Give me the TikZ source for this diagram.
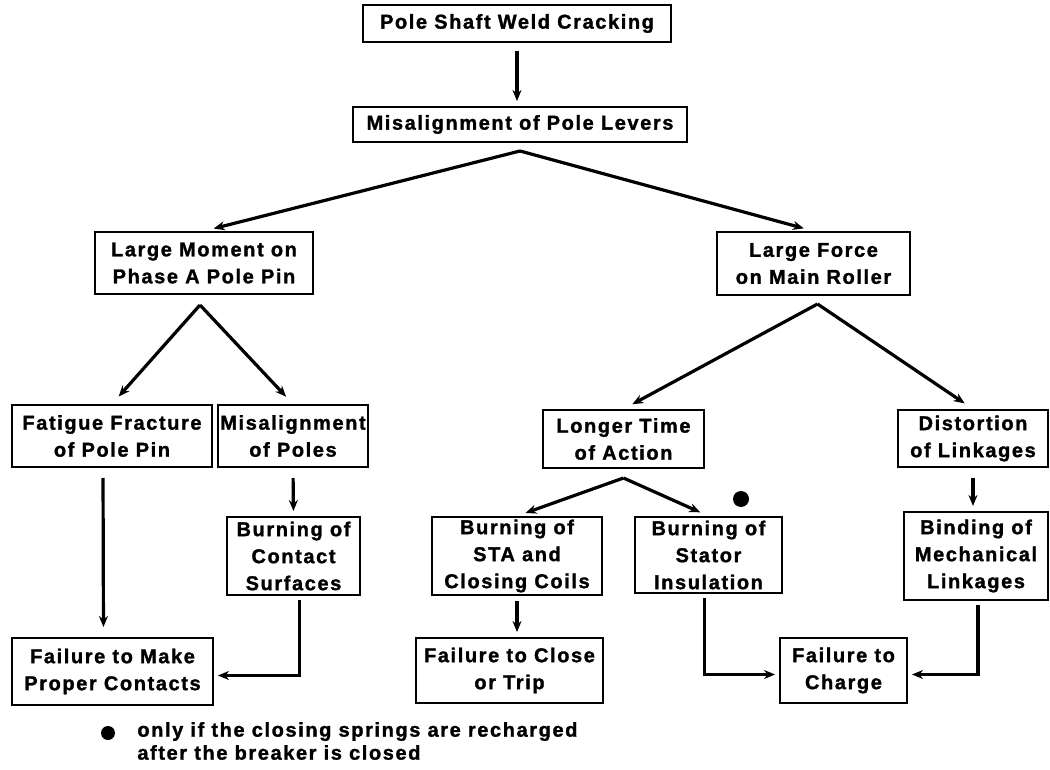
\documentclass[tikz,border=0pt]{standalone}
\usepackage{fontspec}
\setmainfont{Liberation Sans}[LetterSpace=8, BoldFeatures={FakeBold=1.4}]
\usetikzlibrary{arrows.meta}

\begin{document}
\begin{tikzpicture}[x=0.5pt, y=-0.5pt, >={Stealth[length=5.5pt,width=4.5pt]},
    cause/.style={draw, line width=1pt, align=center, inner sep=1pt,
                  font=\fontsize{10}{13.5}\selectfont\bfseries},
    boxsize/.style 2 args={minimum width=#1*0.5pt, minimum height=#2*0.5pt},
    arr/.style={->, line width=1.6pt}]

  \useasboundingbox (0,0) rectangle (1050,770);

  % --- Nivel superior ---
  \node[cause, boxsize={308}{37}] (crack)  at (517,23.5) {Pole Shaft Weld Cracking};
  \node[cause, boxsize={334}{35}] (levers) at (520,124.5) {Misalignment of Pole Levers};

  % --- Segundo nivel ---
  \node[cause, boxsize={218}{62}] (moment) at (204,263) {Large Moment on\\Phase A Pole Pin};
  \node[cause, boxsize={193}{63}] (force)  at (813.5,263.5) {Large Force\\on Main Roller};

  % --- Rama izquierda ---
  \node[cause, boxsize={200}{62}] (fatigue) at (112,436) {Fatigue Fracture\\of Pole Pin};
  \node[cause, boxsize={142}{62}] (poles)   at (293,436) {Misalignment\\of Poles};
  \node[cause, boxsize={133}{78}] (contact) at (293.5,556) {Burning of\\Contact\\Surfaces};
  \node[cause, boxsize={201}{67}] (make)    at (112.5,671.5) {Failure to Make\\Proper Contacts};

  % --- Rama derecha ---
  \node[cause, boxsize={161}{58}] (longer)  at (623.5,439) {Longer Time\\of Action};
  \node[cause, boxsize={150}{57}] (distort) at (973,438.5) {Distortion\\of Linkages};
  \node[cause, boxsize={170}{78}] (sta)     at (517,556) {Burning of\\STA and\\Closing Coils};
  \node[cause, boxsize={147}{76}] (stator)  at (708.5,555) {Burning of\\Stator\\Insulation};
  \node[cause, boxsize={144}{88}] (binding) at (976,556) {Binding of\\Mechanical\\Linkages};
  \node[cause, boxsize={187}{65}] (trip)    at (509.5,670.5) {Failure to Close\\or Trip};
  \node[cause, boxsize={127}{65}] (charge)  at (843.5,670.5) {Failure to\\Charge};

  % --- Marca y leyenda ---
  \node[circle, fill, inner sep=0pt, minimum size=8pt] (mark) at (741,499) {};
  \node[circle, fill, inner sep=0pt, minimum size=7pt] (keymark) at (108,733) {};
  \node[anchor=west, align=left, inner sep=0pt,
        font=\fontsize{10}{11.5}\selectfont\bfseries] (key) at (137,741)
        {only if the closing springs are recharged\\after the breaker is closed};

  % --- Flechas ---
  \draw[arr, shorten <=4pt, shorten >=2.5pt] (crack.south) -- (crack.south |- levers.north);
  \draw[arr, shorten >=5pt] ([yshift=-4pt]levers.south) -- (moment.north);
  \draw[arr, shorten >=5pt] ([yshift=-4pt]levers.south) -- (force.north);
  \draw[arr, shorten >=5pt] ([xshift=-2pt,yshift=-5pt]moment.south) -- (fatigue.north);
  \draw[arr, shorten >=5pt] ([xshift=-2pt,yshift=-5pt]moment.south) -- (poles.north);
  \draw[arr, shorten >=5pt] ([xshift=2pt,yshift=-4pt]force.south) -- (longer.north);
  \draw[arr, shorten >=5pt] ([xshift=2pt,yshift=-4pt]force.south) -- (distort.north);
  \draw[arr, shorten >=4.5pt] ([yshift=-4.5pt]longer.south) -- (sta.north);
  \draw[arr, shorten >=4.5pt] ([yshift=-4.5pt]longer.south) -- (stator.north);

  \draw[arr, shorten <=5pt, shorten >=5pt] ([xshift=-4.5pt]fatigue.south) -- ([xshift=-4.5pt]make.north);
  \draw[arr, shorten <=5pt, shorten >=2.5pt] (poles.south) -- (contact.north);
  \draw[arr, shorten <=5pt, shorten >=2.5pt] (distort.south) -- (distort.south |- binding.north);
  \draw[arr, shorten <=2.5pt, shorten >=2.5pt] (sta.south) -- (sta.south |- trip.north);

  \draw[arr, shorten <=2pt, shorten >=2pt] ([xshift=3pt]contact.south) |- ([yshift=-2pt]make.east);
  \draw[arr, shorten <=2pt, shorten >=2pt] ([xshift=-2pt]stator.south) |- ([yshift=-2pt]charge.west);
  \draw[arr, shorten <=2pt, shorten >=2pt] ([xshift=1pt]binding.south) |- ([yshift=-2pt]charge.east);

\end{tikzpicture}
\end{document}
